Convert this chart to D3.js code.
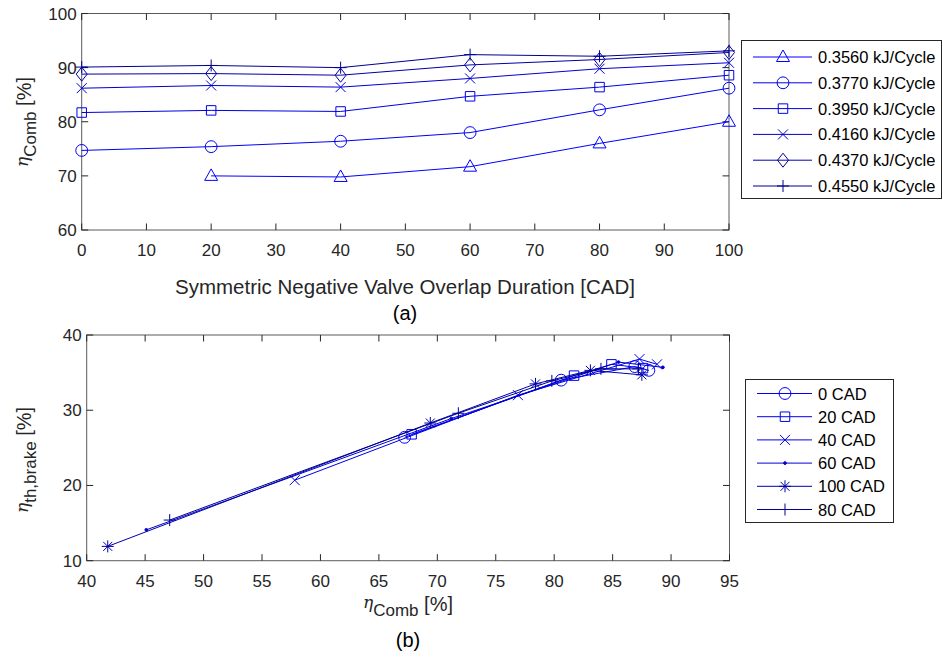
<!DOCTYPE html>
<html>
<head>
<meta charset="utf-8">
<script src="https://cdn.jsdelivr.net/npm/d3@7"></script>
<style>
  body { margin: 0; background: #fff; }
  svg { display: block; font-family: "Liberation Sans", Arial, Helvetica, sans-serif; }
</style>
</head>
<body>
<div id="chart"></div>
<script>
// (a) eta_comb vs NVO duration, one series per fuel energy
const nvoDuration = [0, 20, 40, 60, 80, 100];
const energyLabels = ["0.3560 kJ/Cycle", "0.3770 kJ/Cycle", "0.3950 kJ/Cycle",
                      "0.4160 kJ/Cycle", "0.4370 kJ/Cycle", "0.4550 kJ/Cycle"];
const energyMarkers = ["triangle", "circle", "square", "x", "diamond", "plus"];
const etaComb356 = [null, 70.0, 69.8, 71.7, 76.0, 80.0];
const etaComb377 = [74.7, 75.4, 76.4, 78.0, 82.2, 86.2];
const etaComb395 = [81.7, 82.1, 81.9, 84.7, 86.4, 88.6];
const etaComb416 = [86.2, 86.7, 86.4, 88.0, 89.8, 90.9];
const etaComb437 = [88.8, 88.9, 88.6, 90.5, 91.5, 92.8];
const etaComb455 = [90.1, 90.4, 90.0, 92.4, 92.1, 93.1];

// (b) brake thermal efficiency vs eta_comb, one series per NVO
const cadLabels = ["0 CAD", "20 CAD", "40 CAD", "60 CAD", "100 CAD", "80 CAD"];
const cadMarkers = ["circle", "square", "x", "dot", "asterisk", "plus"];
const combCad0 = [67.2, 80.6, 86.9, 88.1];
const brakeCad0 = [26.4, 34.0, 35.8, 35.3];
const combCad20 = [67.8, 81.7, 84.9, 87.6];
const brakeCad20 = [26.8, 34.6, 36.1, 35.6];
const combCad40 = [57.8, 76.9, 87.3, 88.8];
const brakeCad40 = [20.7, 32.0, 36.8, 36.1];
const combCad60 = [45.1, 71.2, 85.5, 89.3];
const brakeCad60 = [14.1, 28.9, 36.4, 35.7];
const combCad100 = [41.8, 69.4, 78.4, 83.1, 87.5];
const brakeCad100 = [11.9, 28.3, 33.5, 35.3, 34.7];
const combCad80 = [47.1, 71.8, 79.8, 84.0, 87.2];
const brakeCad80 = [15.4, 29.6, 33.9, 35.5, 35.5];

const blues = ["#0000ff", "#0000f2", "#0000e6", "#0000d0", "#0000a8", "#00008f"];

const width = 943, height = 658;
const axisColor = "#262626";
const frameColor = "#5a5a5a";

const svg = d3.select("#chart").append("svg")
  .attr("width", width).attr("height", height);

function markerPath(type) {
  const r = 6;
  switch (type) {
    case "circle": return d3.symbol(d3.symbolCircle, 110)();
    case "square": return d3.symbol(d3.symbolSquare, 90)();
    case "triangle": return "M0,-7L6.5,4.5L-6.5,4.5Z";
    case "diamond": return "M0,-7L5.5,0L0,7L-5.5,0Z";
    case "x": return `M${-5},${-5}L5,5M${-5},5L5,${-5}`;
    case "plus": return `M${-r},0L${r},0M0,${-r}L0,${r}`;
    case "asterisk": return `M${-r},0L${r},0M0,${-r}L0,${r}M-4.5,-4.5L4.5,4.5M-4.5,4.5L4.5,-4.5`;
    case "dot": return d3.symbol(d3.symbolCircle, 6)();
  }
}

function drawMarker(g, type, x, y, color) {
  g.append("path")
    .attr("d", markerPath(type))
    .attr("transform", `translate(${x},${y})`)
    .attr("fill", type === "dot" ? color : "none")
    .attr("stroke", color)
    .attr("stroke-width", 1);
}

// axes with inward ticks on all four sides (box on)
function drawFrame(x, y, xTicks, yTicks) {
  const g = svg.append("g");
  const [x0, x1] = x.range();
  const [y0, y1] = y.range();
  const tl = 6.5;
  g.append("rect")
    .attr("x", x0).attr("y", y1)
    .attr("width", x1 - x0).attr("height", y0 - y1)
    .attr("fill", "none").attr("stroke", frameColor).attr("stroke-width", 1);
  xTicks.forEach(t => {
    const px = x(t);
    g.append("line").attr("x1", px).attr("x2", px).attr("y1", y0).attr("y2", y0 - tl)
      .attr("stroke", axisColor);
    g.append("line").attr("x1", px).attr("x2", px).attr("y1", y1).attr("y2", y1 + tl)
      .attr("stroke", axisColor);
    g.append("text").attr("x", px).attr("y", y0 + 26)
      .attr("text-anchor", "middle").attr("font-size", 17).attr("fill", axisColor)
      .text(t);
  });
  yTicks.forEach(t => {
    const py = y(t);
    g.append("line").attr("x1", x0).attr("x2", x0 + tl).attr("y1", py).attr("y2", py)
      .attr("stroke", axisColor);
    g.append("line").attr("x1", x1).attr("x2", x1 - tl).attr("y1", py).attr("y2", py)
      .attr("stroke", axisColor);
    g.append("text").attr("x", x0 - 5).attr("y", py + 6)
      .attr("text-anchor", "end").attr("font-size", 17).attr("fill", axisColor)
      .text(t);
  });
  return g;
}

function etaLabel(g, sub, x, y, rotate) {
  const t = g.append("text")
    .attr("transform", `translate(${x},${y})` + (rotate ? " rotate(-90)" : ""))
    .attr("text-anchor", "middle").attr("fill", axisColor).attr("font-size", 20);
  t.append("tspan").attr("font-family", "DejaVu Serif, serif").attr("font-style", "italic")
    .attr("font-size", 17).attr("dy", -3).text("η");
  t.append("tspan").attr("font-size", 17).attr("dy", 8).text(sub);
  t.append("tspan").attr("dy", -5).text(" [%]");
}

function drawLegend(x0, y0, w, h, rowY, labels, markers, lineX, markX, textX) {
  const g = svg.append("g");
  g.append("rect").attr("x", x0).attr("y", y0).attr("width", w).attr("height", h)
    .attr("fill", "#fff").attr("stroke", axisColor).attr("stroke-width", 1);
  labels.forEach((lab, i) => {
    const yy = y0 + rowY[0] + i * rowY[1];
    g.append("line").attr("x1", lineX[0]).attr("x2", lineX[1]).attr("y1", yy).attr("y2", yy)
      .attr("stroke", blues[i]).attr("stroke-width", 1);
    drawMarker(g, markers[i], markX, yy, blues[i]);
    g.append("text").attr("x", textX).attr("y", yy + 6).attr("font-size", 16.5)
      .attr("fill", "#000").text(lab);
  });
}

// ---------- (a) ----------
const xA = d3.scaleLinear().domain([0, 100]).range([81.7, 729]);
const yA = d3.scaleLinear().domain([60, 100]).range([230, 13.5]);
const gA = drawFrame(xA, yA, d3.range(0, 101, 10), d3.range(60, 101, 10));

const seriesA = [etaComb356, etaComb377, etaComb395, etaComb416, etaComb437, etaComb455];
const lineA = d3.line()
  .defined(d => d[1] != null)
  .x(d => xA(d[0])).y(d => yA(d[1]));

seriesA.forEach((vals, i) => {
  const pts = nvoDuration.map((n, j) => [n, vals[j]]);
  gA.append("path").attr("d", lineA(pts)).attr("fill", "none")
    .attr("stroke", blues[i]).attr("stroke-width", 1);
  pts.filter(p => p[1] != null).forEach(p =>
    drawMarker(gA, energyMarkers[i], xA(p[0]), yA(p[1]), blues[i]));
});

svg.append("text").attr("x", 405).attr("y", 294).attr("text-anchor", "middle")
  .attr("font-size", 20.5).attr("fill", axisColor)
  .text("Symmetric Negative Valve Overlap Duration [CAD]");
svg.append("text").attr("x", 405).attr("y", 320).attr("text-anchor", "middle")
  .attr("font-size", 20).attr("fill", "#000").text("(a)");
etaLabel(svg, "Comb", 31, 122, true);

drawLegend(741.5, 40.5, 200, 158, [16.5, 25.8], energyLabels, energyMarkers,
  [753, 812], 783, 818);

// ---------- (b) ----------
const xB = d3.scaleLinear().domain([40, 95]).range([86.7, 729.5]);
const yB = d3.scaleLinear().domain([10, 40]).range([560.7, 335]);
const gB = drawFrame(xB, yB, d3.range(40, 96, 5), d3.range(10, 41, 10));

const seriesB = [
  [combCad0, brakeCad0], [combCad20, brakeCad20], [combCad40, brakeCad40],
  [combCad60, brakeCad60], [combCad100, brakeCad100], [combCad80, brakeCad80]
];
const lineB = d3.line().x(d => xB(d[0])).y(d => yB(d[1]));

seriesB.forEach(([xs, ys], i) => {
  const pts = xs.map((v, j) => [v, ys[j]]);
  gB.append("path").attr("d", lineB(pts)).attr("fill", "none")
    .attr("stroke", blues[i]).attr("stroke-width", 1);
  pts.forEach(p => drawMarker(gB, cadMarkers[i], xB(p[0]), yB(p[1]), blues[i]));
});

etaLabel(svg, "Comb", 408, 611, false);
svg.append("text").attr("x", 408).attr("y", 647).attr("text-anchor", "middle")
  .attr("font-size", 20).attr("fill", "#000").text("(b)");
etaLabel(svg, "th,brake", 31, 460, true);

drawLegend(745.5, 379.5, 148, 143, [14, 23.2], cadLabels, cadMarkers,
  [757, 812], 785, 818);
</script>
</body>
</html>
